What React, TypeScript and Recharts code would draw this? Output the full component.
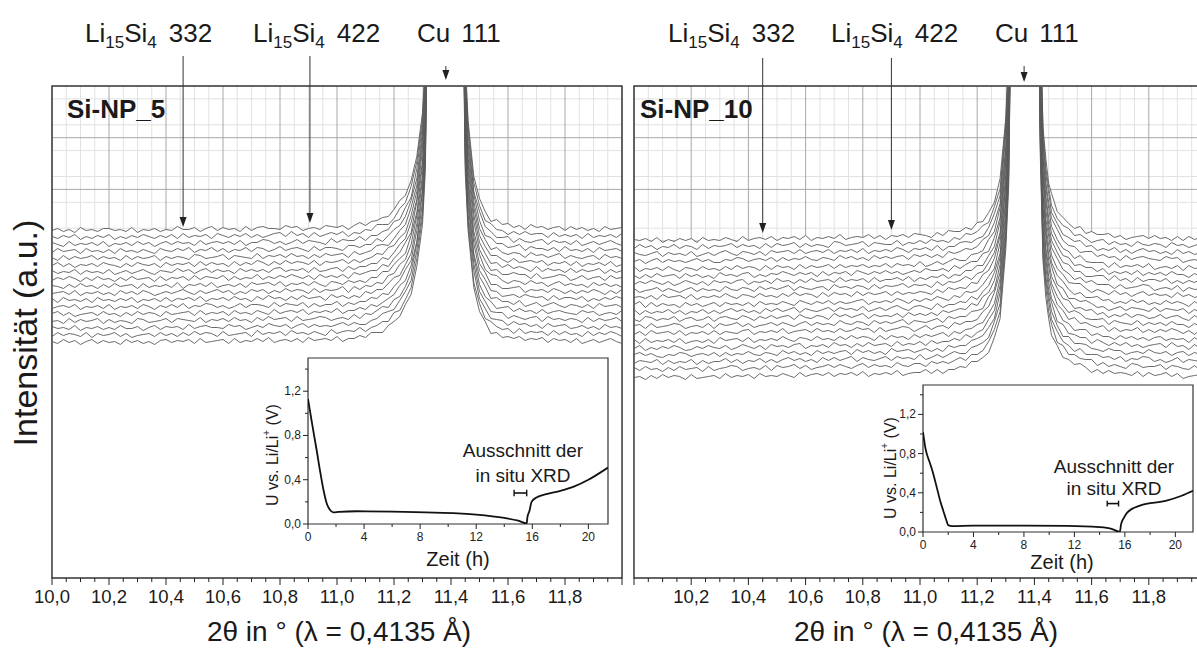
import React from 'react';
import {
  ComposedChart, Line, Area, XAxis, YAxis, CartesianGrid,
  ReferenceArea, ReferenceLine, ReferenceDot,
} from 'recharts';

const FONT = '"Liberation Sans", Arial, Helvetica, sans-serif';
const INK = '#1a1a1a';

// 2θ sampling (deg), finer around Cu 111
const TWO_THETA = [
  10.00, 10.02, 10.04, 10.06, 10.08, 10.10, 10.12, 10.14, 10.16, 10.18,
  10.20, 10.22, 10.24, 10.26, 10.28, 10.30, 10.32, 10.34, 10.36, 10.38,
  10.40, 10.42, 10.44, 10.46, 10.48, 10.50, 10.52, 10.54, 10.56, 10.58,
  10.60, 10.62, 10.64, 10.66, 10.68, 10.70, 10.72, 10.74, 10.76, 10.78,
  10.80, 10.82, 10.84, 10.86, 10.88, 10.90, 10.92, 10.94, 10.96, 10.98,
  11.00, 11.02, 11.04, 11.06, 11.08, 11.10, 11.12, 11.14, 11.16, 11.18,
  11.20, 11.22, 11.24, 11.26, 11.28, 11.30, 11.31, 11.32, 11.33, 11.34,
  11.35, 11.36, 11.37, 11.38, 11.39, 11.40, 11.41, 11.42, 11.43, 11.44,
  11.45, 11.46, 11.48, 11.50, 11.52, 11.54, 11.56, 11.58, 11.60, 11.62,
  11.64, 11.66, 11.68, 11.70, 11.72, 11.74, 11.76, 11.78, 11.80, 11.82,
  11.84, 11.86, 11.88, 11.90, 11.92, 11.94, 11.96, 11.98, 12.00,
];

// mittleres Profil (a.u. über Untergrund), Si-NP_5
const PROFILE_L = [
  0, 0, 0, 0, 0, 0, 0, 0, 0, 0,
  0, 0, 0, 0, 0, 0, 0, 0, 0, 0,
  0, 1, 1, 1, 1, 1, 1, 1, 1, 1,
  1, 1, 1, 1, 1, 1, 2, 2, 2, 2,
  2, 2, 2, 2, 2, 2, 2, 2, 2, 3,
  3, 3, 3, 4, 5, 6, 7, 10, 12, 15,
  20, 27, 35, 48, 75, 120, 170, 380, 600, 750,
  850, 920, 960, 980, 960, 920, 850, 750, 600, 380,
  170, 110, 55, 30, 18, 11, 8, 6, 5, 4,
  4, 3, 3, 3, 2, 2, 2, 2, 2, 1,
  1, 1, 1, 1, 1, 1, 1, 1, 1,
];

// Si-NP_10
const PROFILE_R = [
  0, 0, 0, 0, 0, 0, 0, 0, 0, 0,
  0, 0, 0, 0, 0, 1, 1, 1, 1, 1,
  1, 1, 1, 1, 1, 2, 2, 2, 2, 2,
  2, 2, 2, 2, 2, 3, 3, 3, 3, 3,
  3, 3, 3, 3, 3, 4, 4, 4, 4, 4,
  5, 5, 5, 6, 6, 7, 8, 9, 11, 13,
  15, 20, 27, 38, 60, 125, 190, 400, 600, 750,
  850, 920, 960, 950, 900, 800, 500, 230, 115, 80,
  58, 44, 29, 21, 16, 13, 11, 9, 7, 6,
  5, 4, 4, 3, 3, 3, 3, 3, 3, 2,
  2, 2, 2, 2, 1, 1, 1, 1, 1,
];

// Versatz der einzelnen Diffraktogramme (a.u.)
const OFFSETS_L = [348, 341, 334, 327, 320, 313, 306, 299, 292, 285, 278, 271, 264, 257, 250, 243, 236];
const OFFSETS_R = [338, 331, 324, 317, 309, 302, 295, 288, 281, 273, 266, 259, 252, 245, 237, 230, 223, 216, 209, 201];

// Rauschen je Scan, eine Ziffer pro 2θ-Punkt
const NOISE_L = [
  '4635274536 6453725463 5374462573 6452735644 3756245375 4625736453 5746325476 3564726354 7436527463 5274635627 4635274563',
  '5364725364 7253647536 4627354627 5364735246 7384627356 4725364752 3647536247 5362745367 2546374526 3745627354 6273546372',
  '6427354637 2546374625 7364527356 4637254763 5247365427 3654726354 7263547362 5473625746 3527463572 6435726453 7246357426',
  '3745627453 6274536427 5364725473 6254736524 7356427365 4276354725 6347256437 5264735627 4365274635 7264536274 5362745637',
  '5273645736 4527364572 6354276345 7265437254 6374526374 5627345762 4537264573 6245736425 7364527436 5274635726 4356274536',
  '4736254637 5426375462 7354627364 5273647526 3746537264 5736245637 4526374652 7345627354 6274536427 3564725463 7254637245',
  '6354726453 7246357426 5374625736 4527463526 7354627345 6273546372 4536274563 7254637426 5374526374 6527364527 3645726354',
  '3647526374 5263745627 3546273654 7263547253 6475362745 3627456372 5463725436 7254637245 6374526347 5627345762 4735627453',
  '5426374526 3745627354 6271546372 4536274563 7254637426 5374526374 6527364527 3645726354 7246357426 5374625736 4527463526',
  '4563725463 5274637524 6357426357 4625374625 3746527364 5827364527 4635726453 6274536427 5364725346 7254637526 3647526374',
  '6274536274 5364725463 7254637254 6374526374 5263745627 4635274536 7253647536 4627354627 5364735246 3754627356 4725364752',
  '3564725463 7254637526 4637254763 5247365427 3654726354 7263547362 5473625746 3527463572 6435726453 7246357426 5362745637',
  '5736245637 4526374652 7345627354 6274536427 3564725463 7254637245 4635274536 6453725463 5374462573 6452735644 3756245375',
  '4527364572 6354276345 7265437254 6374526374 5627345762 4537264573 6245736425 7364527436 5274635726 4356274536 5273645736',
  '6453725463 5374462573 6452735644 3756245375 4625736453 5746325476 3564726354 7436527463 5274635627 4635274563 4635274536',
  '3746537264 5736245637 4526374652 7345627354 6274536427 3564725463 7254637245 4736254637 5426375462 7354627364 5273647526',
  '5374625736 4527463526 7354627345 6273546372 4536274563 7254637426 5374526374 6527364527 3645726354 6354726453 7246357426',
];

const NOISE_R = [
  '5463725364 6274536427 3564725463 7254637245 4736254637 5426375462 7354627364 5273647526 3746537264 5736245637 4526374652',
  '3746254736 5273645736 4527364572 6354276345 7265437254 6374526374 5627345762 4537264573 6245736425 7364527436 5274635726',
  '6435726453 7246357426 5362745637 3564725463 7254637526 4637254763 5247365427 3654726354 7263547362 5473625746 3527463572',
  '4625736453 5746325476 3564726354 7436527463 5274635627 4635274563 4635274536 6453725463 5374462573 6452735644 3756245375',
  '7254637426 5374526374 6527364527 3645726354 6354726453 7246357426 5374625736 4527463526 7354627345 6273546372 4536274563',
  '5263745627 4635274536 7253647536 4627354627 5364735246 3754627356 4725364752 6274536274 5364725463 7254637254 6374526374',
  '3647536247 5362745367 2546374526 3745627354 6273546372 5364725364 7253647536 4627354627 5364735246 7384627356 4725364752',
  '6245736425 7364527436 5274635726 4356274536 5273645736 4527364572 6354276345 7265437254 6374526374 5627345762 4537264573',
  '4536274563 7254637426 5374526374 6527364527 3645726354 5426374526 3745627354 6271546372 7246357426 5374625736 4527463526',
  '5827364527 4635726453 6274536427 5364725346 7254637526 3647526374 4563725463 5274637524 6357426357 4625374625 3746527364',
  '7263547362 5473625746 3527463572 6435726453 7246357426 6427354637 2546374625 7364527356 4637254763 5247365427 3654726354',
  '4276354725 6347256437 5264735627 4365274635 7264536274 5362745637 3745627453 6274536427 5364725473 6254736524 7356427365',
  '5627345762 4537264573 6245736425 7364527436 5274635726 4356274536 5273645736 4527364572 6354276345 7265437254 6374526374',
  '3627456372 5463725436 7254637245 6374526347 5627345762 4735627453 3647526374 5263745627 3546273654 7263547253 6475362745',
  '6273546372 4536274563 7254637426 5374526374 6527364527 3645726354 6354726453 7246357426 5374625736 4527463526 7354627345',
  '4725364752 3647536247 5362745367 2546374526 3745627354 6273546372 5364725364 7253647536 4627354627 5364735246 7384627356',
  '5746325476 3564726354 7436527463 5274635627 4635274563 4635274536 6453725463 5374462573 6452735644 3756245375 4625736453',
  '3654726354 7263547362 5473625746 3527463572 6435726453 7246357426 6427354637 2546374625 7364527356 4637254763 5247365427',
  '6374526374 5627345762 4537264573 6245736425 7364527436 5274635726 4356274536 5273645736 4527364572 6354276345 7265437254',
  '4526374652 7345627354 6274536427 3564725463 7254637245 4736254637 5426375462 7354627364 5273647526 3746537264 5736245637',
];

const X_TICKS = [
  10, 10.05, 10.1, 10.15, 10.2, 10.25, 10.3, 10.35, 10.4, 10.45,
  10.5, 10.55, 10.6, 10.65, 10.7, 10.75, 10.8, 10.85, 10.9, 10.95,
  11, 11.05, 11.1, 11.15, 11.2, 11.25, 11.3, 11.35, 11.4, 11.45,
  11.5, 11.55, 11.6, 11.65, 11.7, 11.75, 11.8, 11.85, 11.9, 11.95, 12,
];
const X_LABELS_L = ['10,0', '10,2', '10,4', '10,6', '10,8', '11,0', '11,2', '11,4', '11,6', '11,8'];
const X_LABELS_R = ['10,2', '10,4', '10,6', '10,8', '11,0', '11,2', '11,4', '11,6', '11,8'];

const isMajor = (v: number) => Math.abs(v * 5 - Math.round(v * 5)) < 1e-6;
const GRID_X_MAJOR = X_TICKS.filter(isMajor);
const GRID_X_MINOR = X_TICKS.filter(t => !isMajor(t));
const GRID_Y_MAJOR = [440.3, 388.6, 337];
const GRID_Y_MINOR = [479.1, 466.2, 453.2, 427.4, 414.5, 401.5, 375.7, 362.8, 349.8];

// markierte Reflexe (2θ) und Pfeilenden (a.u.)
const REFLEX_L = [10.46, 10.905, 11.382];
const REFLEX_R = [10.45, 10.9, 11.364];
const ARROW_TOP_L = [522, 522, 512];
const ARROW_TIP_L = [351, 355, 498];
const ARROW_TOP_R = [520, 520, 512];
const ARROW_TIP_R = [345, 348, 496];

// Inset: Potentialverlauf
const TIME_L = [0, 0.3, 0.6, 0.9, 1.15, 1.35, 1.55, 1.8, 2.2, 3.5, 6, 9, 12, 14, 15, 15.6, 15.65, 15.8, 15.95, 16.3, 17, 18, 19, 20, 21.4];
const VOLT_L = [1.13, 0.9, 0.68, 0.45, 0.28, 0.18, 0.13, 0.105, 0.11, 0.115, 0.112, 0.103, 0.085, 0.055, 0.03, 0.005, 0.06, 0.12, 0.2, 0.24, 0.27, 0.3, 0.34, 0.4, 0.51];
const TIME_R = [0, 0.2, 0.56, 0.8, 1.1, 1.4, 1.6, 1.85, 2.0, 2.3, 4, 8, 11.4, 14, 15, 15.6, 15.7, 15.9, 16.2, 17.2, 19.3, 20.5, 21.4];
const VOLT_R = [1.02, 0.85, 0.7, 0.6, 0.45, 0.3, 0.22, 0.12, 0.07, 0.06, 0.065, 0.065, 0.063, 0.05, 0.03, 0.0, 0.08, 0.14, 0.2, 0.27, 0.32, 0.37, 0.42];
const XRD_WIN_L = [14.7, 15.6];
const XRD_WIN_R = [14.6, 15.5];
const XRD_V_L = 0.28;
const XRD_V_R = 0.29;
const INSET_T_TICKS = [0, 2, 4, 6, 8, 10, 12, 14, 16, 18, 20];
const INSET_V_TICKS = [0, 0.2, 0.4, 0.6, 0.8, 1.0, 1.2, 1.4];

const clean = (s: string) => s.replace(/ /g, '');
const noiseAt = (s: string, i: number) => {
  const c = s.charCodeAt(i);
  return isNaN(c) ? 0 : (c - 48 - 4.5);
};

function buildRows(profile: number[], offsets: number[], noise: string[]) {
  const ns = noise.map(clean);
  return TWO_THETA.map((x, i) => {
    const row: any = { x };
    offsets.forEach((o, k) => { row['c' + k] = o + profile[i] + noiseAt(ns[k], i); });
    return row;
  });
}

const rowsL = buildRows(PROFILE_L, OFFSETS_L, NOISE_L);
const rowsR = buildRows(PROFILE_R, OFFSETS_R, NOISE_R);
const insetL = TIME_L.map((t, i) => ({ t, v: VOLT_L[i] }));
const insetR = TIME_R.map((t, i) => ({ t, v: VOLT_R[i] }));

const makeXTick = (labels: string[]) => (props: any) => {
  const { x, y, payload } = props;
  const v = payload.value;
  const major = isMajor(v);
  const txt = v.toFixed(1).replace('.', ',');
  return (
    <g>
      <line x1={x} x2={x} y1={y} y2={y + (major ? 7 : 4)} stroke="#222" />
      {major && labels.includes(txt) && (
        <text x={x} y={y + 25} textAnchor="middle" fontSize={18.5} fontFamily={FONT} fill={INK}>{txt}</text>
      )}
    </g>
  );
};

const InsetTickX = (props: any) => {
  const { x, y, payload } = props;
  const v = payload.value;
  const major = v % 4 === 0;
  return (
    <g>
      <line x1={x} x2={x} y1={y} y2={y + (major ? 5 : 3)} stroke="#222" />
      {major && <text x={x} y={y + 17} textAnchor="middle" fontSize={12} fontFamily={FONT} fill="#222">{v}</text>}
    </g>
  );
};

const InsetTickY = (props: any) => {
  const { x, y, payload } = props;
  const v = payload.value;
  const major = Math.abs(v / 0.4 - Math.round(v / 0.4)) < 1e-6;
  return (
    <g>
      <line x1={x} x2={x - (major ? 5 : 3)} y1={y} y2={y} stroke="#222" />
      {major && (
        <text x={x - 7} y={y + 4} textAnchor="end" fontSize={12} fontFamily={FONT} fill="#222">
          {v.toFixed(1).replace('.', ',')}
        </text>
      )}
    </g>
  );
};

const arrowHead = (p: any) => (
  <polygon points={`${p.cx - 3.5},${p.cy - 10} ${p.cx + 3.5},${p.cy - 10} ${p.cx},${p.cy}`} fill="#222" />
);

function Panel({ left, width, mLeft, mRight, rows, n, labels, reflex, tops, tips }: any) {
  return (
    <div style={{ position: 'absolute', left, top: 0 }}>
      <ComposedChart width={width} height={648} data={rows}
        margin={{ top: 86, right: mRight, left: mLeft, bottom: 30 }}>
        <CartesianGrid horizontalValues={GRID_Y_MINOR} verticalValues={GRID_X_MINOR} stroke="#e2e2e2" />
        <CartesianGrid horizontalValues={GRID_Y_MAJOR} verticalValues={GRID_X_MAJOR} stroke="#a8a8a8" />
        <XAxis dataKey="x" type="number" domain={[10, 12]} ticks={X_TICKS} interval={0}
          tick={makeXTick(labels)} tickSize={0} tickMargin={0} axisLine={false} height={40} allowDataOverflow />
        <YAxis hide type="number" domain={[0, 492]} allowDataOverflow />
        <Area type="linear" dataKey="c0" fill="#fff" fillOpacity={1} stroke="none"
          isAnimationActive={false} dot={false} activeDot={false} />
        {Array.from({ length: n }).map((_, k) => (
          <Line key={k} type="linear" dataKey={'c' + k} stroke="#5a5a5a" strokeWidth={0.9}
            dot={false} activeDot={false} isAnimationActive={false} />
        ))}
        <ReferenceArea x1={10} x2={12} y1={0} y2={492} fill="none" stroke="#333" strokeWidth={1.4} ifOverflow="visible" />
        {reflex.map((x: number, i: number) => (
          <ReferenceLine key={'l' + i} segment={[{ x, y: tops[i] }, { x, y: tips[i] + 8 }]}
            stroke="#333" strokeWidth={1} ifOverflow="visible" />
        ))}
        {reflex.map((x: number, i: number) => (
          <ReferenceDot key={'d' + i} x={x} y={tips[i]} ifOverflow="visible" shape={arrowHead} />
        ))}
      </ComposedChart>
    </div>
  );
}

function Inset({ left, top, width, height, margin, data, win, winV }: any) {
  return (
    <div style={{ position: 'absolute', left, top }}>
      <ComposedChart width={width} height={height} data={data} margin={margin}>
        <XAxis dataKey="t" type="number" domain={[0, 21.4]} ticks={INSET_T_TICKS} interval={0}
          tick={InsetTickX} tickSize={0} tickMargin={0} axisLine={false} height={20} allowDataOverflow />
        <YAxis type="number" domain={[0, 1.5]} ticks={INSET_V_TICKS} interval={0}
          tick={InsetTickY} tickSize={0} tickMargin={0} axisLine={false} width={30} allowDataOverflow />
        <ReferenceArea x1={0} x2={21.4} y1={0} y2={1.5} fill="#fff" fillOpacity={1} stroke="#333" strokeWidth={1.2} />
        <Line dataKey="v" type="monotone" stroke="#111" strokeWidth={1.8} dot={false} activeDot={false} isAnimationActive={false} />
        <ReferenceLine segment={[{ x: win[0], y: winV }, { x: win[1], y: winV }]} stroke="#111" strokeWidth={1.6} />
        <ReferenceLine segment={[{ x: win[0], y: winV - 0.03 }, { x: win[0], y: winV + 0.03 }]} stroke="#111" strokeWidth={1.4} />
        <ReferenceLine segment={[{ x: win[1], y: winV - 0.03 }, { x: win[1], y: winV + 0.03 }]} stroke="#111" strokeWidth={1.4} />
      </ComposedChart>
    </div>
  );
}

const PhaseLabel = ({ x, hkl }: { x: number; hkl: string }) => (
  <text x={x} y={42} fontSize={26} fontFamily={FONT} fill={INK}>
    Li<tspan fontSize={17} dy={6}>15</tspan><tspan dy={-6}>Si</tspan>
    <tspan fontSize={17} dy={6}>4</tspan><tspan dy={-6} dx={12}>{hkl}</tspan>
  </text>
);

const CuLabel = ({ x }: { x: number }) => (
  <text x={x} y={42} fontSize={26} fontFamily={FONT} fill={INK}>Cu<tspan dx={11}>111</tspan></text>
);

const UAxisLabel = ({ x, y }: { x: number; y: number }) => (
  <text x={x} y={y} transform={`rotate(-90 ${x} ${y})`} textAnchor="middle" dominantBaseline="central"
    fontSize={16} fontFamily={FONT} fill={INK}>
    U vs. Li/Li<tspan dy={-6} fontSize={10}>+</tspan><tspan dy={6}> (V)</tspan>
  </text>
);

export default function App() {
  return (
    <div style={{ position: 'absolute', left: 0, top: 0, width: 1197, height: 648, overflow: 'hidden', background: '#fff' }}>
      <Panel left={0} width={640} mLeft={52} mRight={18} rows={rowsL} n={OFFSETS_L.length}
        labels={X_LABELS_L} reflex={REFLEX_L} tops={ARROW_TOP_L} tips={ARROW_TIP_L} />
      <Panel left={628} width={600} mLeft={6} mRight={22} rows={rowsR} n={OFFSETS_R.length}
        labels={X_LABELS_R} reflex={REFLEX_R} tops={ARROW_TOP_R} tips={ARROW_TIP_R} />

      <Inset left={240} top={340} width={380} height={240}
        margin={{ top: 18, right: 12, left: 38, bottom: 36 }} data={insetL} win={XRD_WIN_L} winV={XRD_V_L} />
      <Inset left={860} top={370} width={345} height={230}
        margin={{ top: 15, right: 12, left: 33, bottom: 48 }} data={insetR} win={XRD_WIN_R} winV={XRD_V_R} />

      <svg width={1197} height={648} style={{ position: 'absolute', left: 0, top: 0, pointerEvents: 'none' }}>
        <PhaseLabel x={85} hkl="332" />
        <PhaseLabel x={253} hkl="422" />
        <CuLabel x={417} />
        <PhaseLabel x={668} hkl="332" />
        <PhaseLabel x={831} hkl="422" />
        <CuLabel x={995} />

        <text x={67} y={118} fontSize={26} fontWeight="bold" fontFamily={FONT} fill={INK}>Si-NP_5</text>
        <text x={640} y={118} fontSize={26} fontWeight="bold" fontFamily={FONT} fill={INK}>Si-NP_10</text>

        <text x={25} y={333} transform="rotate(-90 25 333)" textAnchor="middle" dominantBaseline="central"
          fontSize={34} fontFamily={FONT} fill={INK}>Intensität (a.u.)</text>

        <text x={339} y={641} textAnchor="middle" fontSize={28} fontFamily={FONT} fill={INK}>2θ in ° (λ = 0,4135 Å)</text>
        <text x={926} y={641} textAnchor="middle" fontSize={28} fontFamily={FONT} fill={INK}>2θ in ° (λ = 0,4135 Å)</text>

        <text x={458} y={566} textAnchor="middle" fontSize={20} fontFamily={FONT} fill={INK}>Zeit (h)</text>
        <text x={1062} y={569} textAnchor="middle" fontSize={20} fontFamily={FONT} fill={INK}>Zeit (h)</text>
        <UAxisLabel x={272} y={455} />
        <UAxisLabel x={890} y={468} />

        <text x={523} y={457} textAnchor="middle" fontSize={19} fontFamily={FONT} fill={INK}>Ausschnitt der</text>
        <text x={523} y={482} textAnchor="middle" fontSize={19} fontFamily={FONT} fill={INK}>in situ XRD</text>
        <text x={1114} y={473} textAnchor="middle" fontSize={19} fontFamily={FONT} fill={INK}>Ausschnitt der</text>
        <text x={1114} y={495} textAnchor="middle" fontSize={19} fontFamily={FONT} fill={INK}>in situ XRD</text>
      </svg>
    </div>
  );
}
